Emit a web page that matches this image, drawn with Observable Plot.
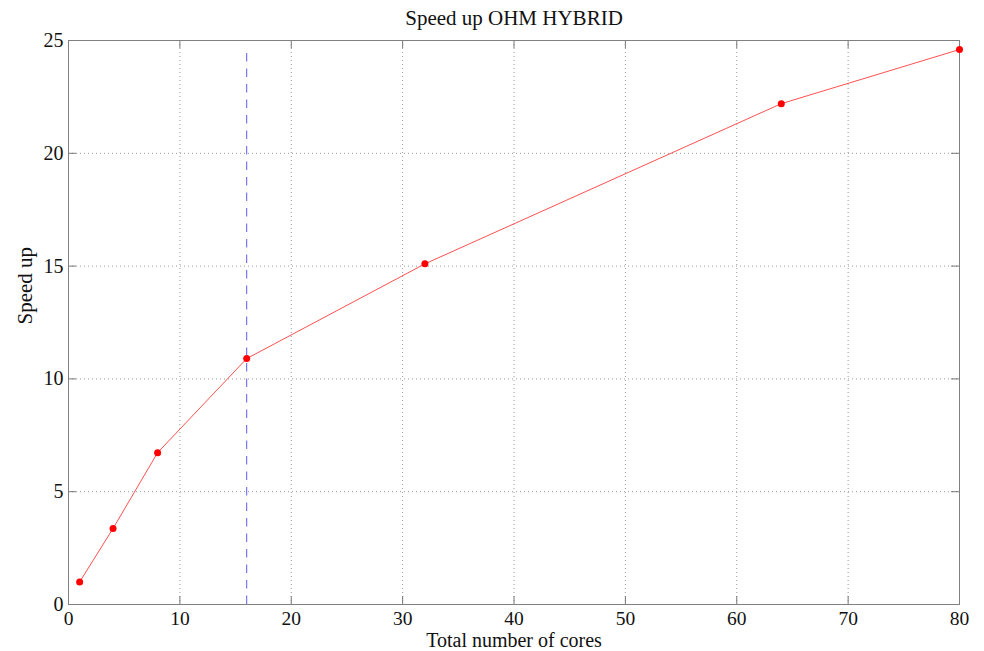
<!DOCTYPE html>
<html>
<head>
<meta charset="utf-8">
<script src="https://cdn.jsdelivr.net/npm/d3@7"></script>
<script src="https://cdn.jsdelivr.net/npm/@observablehq/plot@0.6"></script>
<style>
  html, body { margin: 0; padding: 0; background: #fff; }
</style>
</head>
<body>
<div id="chart"></div>
<script>
// Measured speed-up of the hybrid OHM run versus total core count
const cores = [1, 4, 8, 16, 32, 64, 80];
const speedup = [1.0, 3.37, 6.73, 10.9, 15.1, 22.2, 24.6];

// Core count where the dashed reference line is drawn
const markerCores = 16;

// Axis ticks
const xTicks = [0, 10, 20, 30, 40, 50, 60, 70, 80];
const yTicks = [0, 5, 10, 15, 20, 25];

const title = "Speed up OHM HYBRID";
const xLabel = "Total number of cores";
const yLabel = "Speed up";

const data = cores.map((c, i) => ({cores: c, speedup: speedup[i]}));

const W = 984, H = 651;
const mL = 68, mR = 25, mT = 40, mB = 47;
const innerW = W - mL - mR, innerH = H - mT - mB;
const tickLen = 8;

const gridStyle = {stroke: "#9a9a9a", strokeOpacity: 1, strokeWidth: 1, strokeDasharray: "1,3"};
const tickStyle = {stroke: "#777", strokeWidth: 1};

const chart = Plot.plot({
  width: W,
  height: H,
  marginLeft: mL,
  marginRight: mR,
  marginTop: mT,
  marginBottom: mB,
  style: {fontFamily: "'Liberation Serif', 'Times New Roman', serif", fontSize: "20px", color: "#111", background: "#fff"},
  x: {domain: [0, 80]},
  y: {domain: [0, 25]},
  marks: [
    Plot.gridX(xTicks, gridStyle),
    Plot.gridY(yTicks, gridStyle),
    // inward tick marks on all four sides
    Plot.ruleX(xTicks, {x: d => d, insetTop: innerH - tickLen, ...tickStyle}),
    Plot.ruleX(xTicks, {x: d => d, insetBottom: innerH - tickLen, ...tickStyle}),
    Plot.ruleY(yTicks, {y: d => d, insetRight: innerW - tickLen, ...tickStyle}),
    Plot.ruleY(yTicks, {y: d => d, insetLeft: innerW - tickLen, ...tickStyle}),
    Plot.frame({stroke: "#808080", strokeWidth: 1}),
    Plot.axisX(xTicks, {tickSize: 0, tickPadding: 6.5, fontSize: 19.5, label: null}),
    Plot.axisY(yTicks, {tickSize: 0, tickPadding: 5, fontSize: 20, label: null}),
    Plot.ruleX([markerCores], {x: d => d, y1: 0, y2: d3.max(speedup), stroke: "#5a5aff", strokeWidth: 1, strokeDasharray: "8.5,7"}),
    Plot.line(data, {x: "cores", y: "speedup", stroke: "#ff5050", strokeWidth: 1}),
    Plot.dot(data, {x: "cores", y: "speedup", r: 3.5, fill: "#ff0000", stroke: "none"}),
    Plot.text([title], {frameAnchor: "top", dy: -16, lineAnchor: "bottom", fontSize: 21, fill: "#111"}),
    Plot.text([xLabel], {frameAnchor: "bottom", dy: 42.5, lineAnchor: "bottom", fontSize: 20, fill: "#111"}),
    Plot.text([yLabel], {frameAnchor: "left", dx: -37, dy: 2, rotate: -90, lineAnchor: "bottom", fontSize: 21, fill: "#111"})
  ]
});

document.getElementById("chart").appendChild(chart);
</script>
</body>
</html>
